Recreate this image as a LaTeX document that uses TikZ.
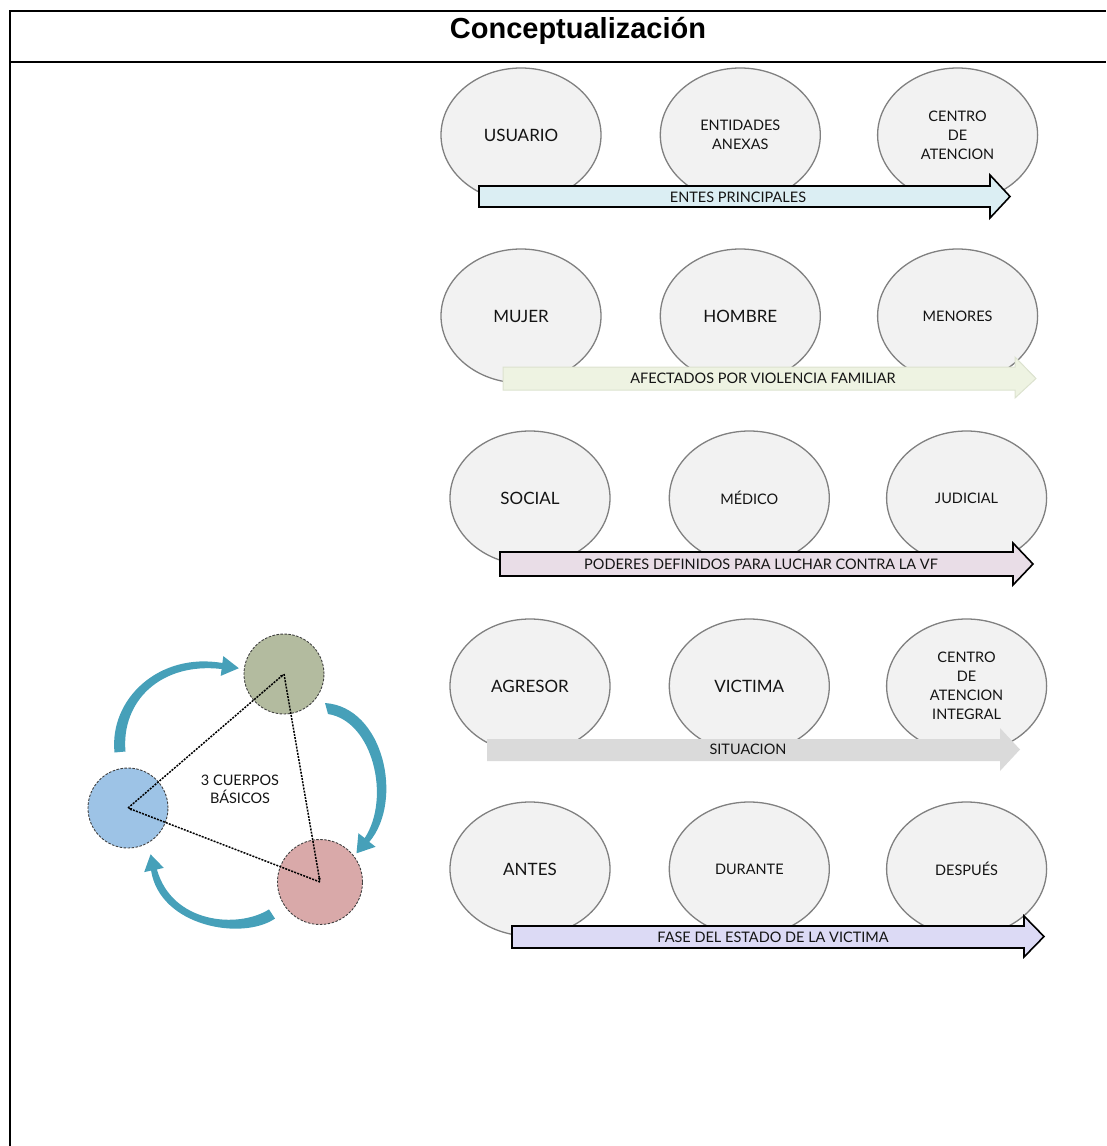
\documentclass[tikz,border=0pt]{standalone}
\usepackage{fontspec}
\setmainfont{Lato}
\newfontfamily\titlefont{Liberation Sans}
\usetikzlibrary{arrows.meta,positioning,shapes.geometric}

\definecolor{entfill}{HTML}{F2F2F2}
\definecolor{entline}{HTML}{808080}
\definecolor{bandA}{HTML}{DBEEF3}
\definecolor{bandB}{HTML}{EEF3E2}
\definecolor{bandBline}{HTML}{DCE2CF}
\definecolor{bandC}{HTML}{E9DDE7}
\definecolor{bandD}{HTML}{DADADA}
\definecolor{bandE}{HTML}{DCDAF5}
\definecolor{cGreen}{HTML}{B3BB9F}
\definecolor{cBlue}{HTML}{9DC3E6}
\definecolor{cPink}{HTML}{D9A9A9}
\definecolor{cTeal}{HTML}{46A0B9}

\begin{document}
\begin{tikzpicture}[x=1pt, y=-1pt,
    ent/.style={ellipse, draw=entline, line width=1.3pt, fill=entfill, minimum width=160pt, minimum height=134pt, inner sep=0pt, align=center, text=black!92, font=\fontsize{17}{19}\selectfont},
    entsm/.style={ent, font=\fontsize{14.5}{19}\selectfont},
    band/.style={draw=black, line width=1.6pt},
    lbl/.style={inner sep=0pt, text=black!92, font=\fontsize{14.5}{17}\selectfont},
    body/.style={circle, draw=black!75, dash pattern=on 2.5pt off 1.5pt, line width=0.9pt, minimum size=80pt, inner sep=0pt},
    tri/.style={dash pattern=on 2pt off 1.2pt, line width=1.5pt, -{Latex[length=4pt,width=3pt]}},
    cyc/.style={fill=cTeal, draw=none}
  ]
    \useasboundingbox (0,0) rectangle (1106,1146);
    % table
    \draw[line width=1.6pt] (10,1146) -- (10,11) -- (1106,11);
    \draw[line width=1.6pt] (10,62) -- (1106,62);
    \node[font=\titlefont\bfseries\fontsize{29}{32}\selectfont, anchor=base] (title) at (578,38) {Conceptualización};

    % rows of ellipses
    \node[ent] (usuario) at (521,135) {USUARIO};
    \node[entsm, right=58pt of usuario] (entidades) {ENTIDADES\\ANEXAS};
    \node[entsm, right=56pt of entidades] (centro) {CENTRO\\DE\\ATENCION};

    \node[ent] (mujer) at (521,316) {MUJER};
    \node[ent, right=58pt of mujer] (hombre) {HOMBRE};
    \node[entsm, right=56pt of hombre] (menores) {MENORES};

    \node[ent] (social) at (530,498) {SOCIAL};
    \node[entsm, right=58pt of social] (medico) {MÉDICO};
    \node[entsm, right=56pt of medico] (judicial) {JUDICIAL};

    \node[ent] (agresor) at (530,686) {AGRESOR};
    \node[ent, right=58pt of agresor] (victima) {VICTIMA};
    \node[entsm, right=56pt of victima] (centroint) {CENTRO\\DE\\ATENCION\\INTEGRAL};

    \node[ent] (antes) at (530,869) {ANTES};
    \node[entsm, right=58pt of antes] (durante) {DURANTE};
    \node[entsm, right=56pt of durante] (despues) {DESPUÉS};

    % block arrows
    \draw[band, fill=bandA] (479,186) -- (990,186) -- (990,175) -- (1010,196.5) -- (990,218) -- (990,207) -- (479,207) -- cycle;
    \node[lbl] (entes) at (738,197) {ENTES PRINCIPALES};
    \draw[fill=bandB, draw=bandBline, line width=1pt] (503,367) -- (1015,367) -- (1015,357) -- (1036,378.5) -- (1015,398) -- (1015,390) -- (503,390) -- cycle;
    \node[lbl] (afectados) at (763,378) {AFECTADOS POR VIOLENCIA FAMILIAR};
    \draw[band, fill=bandC] (500,552) -- (1013,552) -- (1013,543) -- (1033,564) -- (1013,585) -- (1013,576) -- (500,576) -- cycle;
    \node[lbl] (poderes) at (761,564) {PODERES DEFINIDOS PARA LUCHAR CONTRA LA VF};
    \fill[bandD] (487,739) -- (1000,739) -- (1000,728) -- (1020,749.5) -- (1000,771) -- (1000,761) -- (487,761) -- cycle;
    \node[lbl] (situacion) at (748,749) {SITUACION};
    \draw[band, fill=bandE] (512,926) -- (1024,926) -- (1024,916) -- (1044,936.5) -- (1024,957) -- (1024,948) -- (512,948) -- cycle;
    \node[lbl] (fase) at (773,937) {FASE DEL ESTADO DE LA VICTIMA};

    % three bodies
    \fill[cyc] (114.5,752.5) .. controls (109,699) and (159,652) .. (222.4,663) -- (223.3,656.1) -- (238.8,668.2) -- (220.7,675.9) -- (221.6,669) .. controls (161,662) and (121,701) .. (125.5,751.5) -- cycle;
    \fill[cyc] (325,703) .. controls (384,707) and (404,801) .. (369.3,841.9) -- (375.6,846.8) -- (356.5,853.3) -- (358.4,833.2) -- (364.7,838.1) .. controls (391,798) and (373,721) .. (328,714) -- cycle;
    \fill[cyc] (275,918.6) .. controls (242,941) and (160,926.5) .. (151.1,870.6) -- (144.2,872.1) -- (150.6,854.3) -- (163.8,867.9) -- (156.9,869.4) .. controls (172,923.5) and (238,929) .. (269,909.4) -- cycle;

    \node[body, fill=cGreen] (bodyG) at (284,674) {};
    \node[body, fill=cBlue] (bodyB) at (128,808) {};
    \node[body, fill=cPink, minimum size=85pt] (bodyP) at (320,882) {};

    \draw[tri] (bodyB.center) -- (bodyG.center);
    \draw[tri] (bodyG.center) -- (bodyP.center);
    \draw[tri] (bodyP.center) -- (bodyB.center);
    \node[lbl, font=\fontsize{14.5}{18}\selectfont, align=center] (cuerpos) at (240,789) {3 CUERPOS\\BÁSICOS};
\end{tikzpicture}
\end{document}
